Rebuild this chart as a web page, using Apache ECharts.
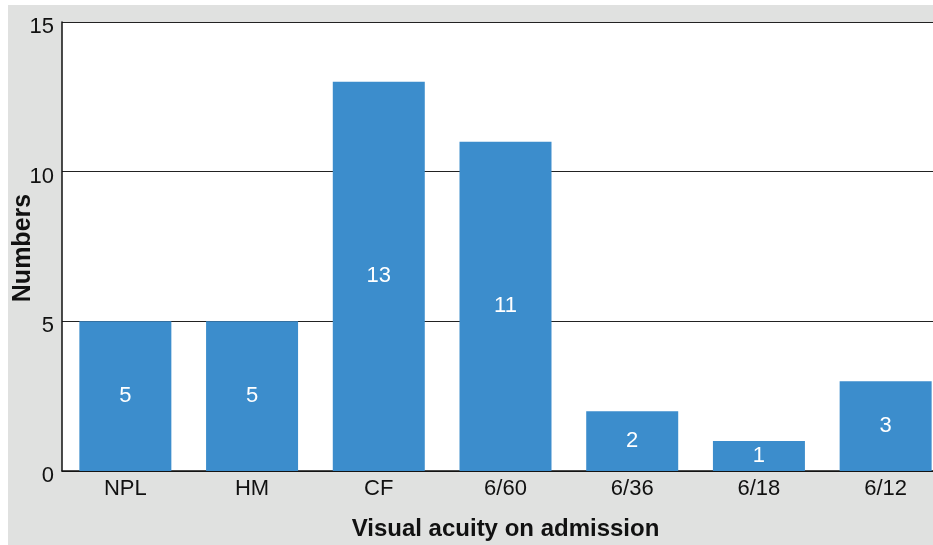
<!DOCTYPE html>
<html>
<head>
<meta charset="utf-8">
<script src="https://cdn.jsdelivr.net/npm/echarts@6/dist/echarts.min.js"></script>
<style>
  html, body { margin: 0; padding: 0; background: #ffffff; }
  #chart { width: 933px; height: 545px; }
</style>
</head>
<body>
<div id="chart"></div>
<script>
const categories = ['NPL', 'HM', 'CF', '6/60', '6/36', '6/18', '6/12']
const counts = [5, 5, 13, 11, 2, 1, 3]
const yTicks = [0, 5, 10, 15]

const font = '"Liberation Sans", Arial, Helvetica, sans-serif'
const chart = echarts.init(document.getElementById('chart'))

chart.setOption({
  animation: false,
  graphic: [{
    type: 'rect',
    z: -10,
    silent: true,
    shape: { x: 8, y: 5, width: 925, height: 540 },
    style: { fill: '#e0e1e0' }
  }, {
    // y axis title, placed by hand (axis name gets clamped to the canvas)
    type: 'text',
    x: 23,
    y: 248,
    rotation: Math.PI / 2,
    silent: true,
    style: {
      text: 'Numbers',
      fontFamily: font,
      fontSize: 25,
      fontWeight: 'bold',
      fill: '#111',
      align: 'center',
      verticalAlign: 'middle'
    }
  }],
  grid: {
    left: 62,
    right: -16,
    top: 22,
    bottom: 74,
    outerBoundsMode: 'none',
    containLabel: false,
    backgroundColor: '#ffffff',
    show: true,
    borderWidth: 0
  },
  xAxis: {
    type: 'category',
    data: categories,
    name: 'Visual acuity on admission',
    nameLocation: 'middle',
    nameGap: 46,
    nameTextStyle: { fontFamily: font, fontSize: 24, fontWeight: 'bold', color: '#111' },
    axisLine: { lineStyle: { color: '#111', width: 1.5 } },
    axisTick: { show: false },
    axisLabel: { fontFamily: font, fontSize: 22, color: '#111', margin: 7 }
  },
  yAxis: {
    type: 'value',
    min: yTicks[0],
    max: yTicks[yTicks.length - 1],
    interval: 5,
    axisLine: { show: true, lineStyle: { color: '#111', width: 1.5 } },
    axisTick: { show: false },
    axisLabel: {
      fontFamily: font, fontSize: 22, color: '#111', margin: 8,
      verticalAlign: 'top', lineHeight: 10
    },
    splitLine: { lineStyle: { color: '#222', width: 1 } }
  },
  series: [{
    type: 'bar',
    data: counts,
    barWidth: '72.6%',
    itemStyle: { color: '#3c8dcc' },
    label: {
      show: true,
      position: 'inside',
      color: '#ffffff',
      fontFamily: font,
      fontSize: 22
    }
  }]
})
</script>
</body>
</html>
